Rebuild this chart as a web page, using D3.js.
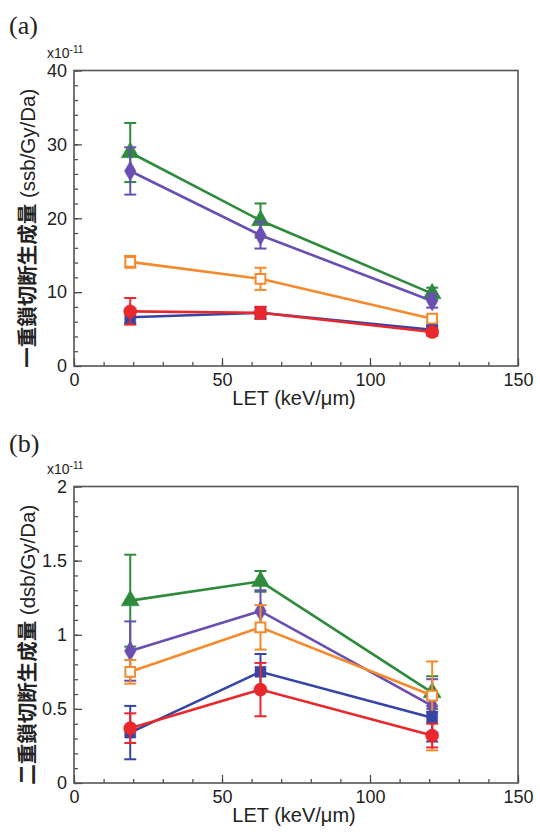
<!DOCTYPE html>
<html>
<head>
<meta charset="utf-8">
<script src="https://cdn.jsdelivr.net/npm/d3@7"></script>
<style>
  body { margin: 0; background: #fff; }
  svg { display: block; }
</style>
</head>
<body>
<svg id="chart"></svg>
<script>
// LET positions of the three beams (keV/um)
const LET = [19, 63, 121];
const seriesKeys = ["triangle", "diamond", "openSquare", "square", "circle"];
const colors = ["#2f8b3c", "#6a4fb3", "#f58a2c", "#3545a6", "#e8282d"];

// (a) single strand breaks, x10^-11 ssb/Gy/Da
const ssbValues = [
  [28.9, 19.7, 9.8],
  [26.4, 17.7, 8.8],
  [14.1, 11.8, 6.4],
  [6.6, 7.2, 4.9],
  [7.4, 7.2, 4.6],
];
const ssbErrUp = [
  [4.0, 2.3, 0.8],
  [3.2, 1.8, 0.9],
  [0.8, 1.5, 0.4],
  [0.8, 0.8, 0.5],
  [1.8, 0.8, 0.5],
];
const ssbErrDown = ssbErrUp;

// (b) double strand breaks, x10^-11 dsb/Gy/Da
const dsbValues = [
  [1.23, 1.36, 0.61],
  [0.89, 1.16, 0.52],
  [0.75, 1.05, 0.59],
  [0.34, 0.75, 0.44],
  [0.37, 0.63, 0.32],
];
const dsbErrUp = [
  [0.31, 0.07, 0.11],
  [0.2, 0.14, 0.18],
  [0.08, 0.15, 0.23],
  [0.18, 0.12, 0.04],
  [0.1, 0.18, 0.08],
];
const dsbErrDown = [
  [0.31, 0.07, 0.11],
  [0.2, 0.14, 0.18],
  [0.08, 0.15, 0.37],
  [0.18, 0.12, 0.16],
  [0.1, 0.18, 0.08],
];

const xTicks = [0, 50, 100, 150];
const ssbTicks = [0, 10, 20, 30, 40];
const dsbTicks = [0, 0.5, 1, 1.5, 2];

const width = 540;
const height = 834;
const svg = d3.select("#chart").attr("width", width).attr("height", height);

const x = d3.scaleLinear().domain([0, 150]).range([74, 518]);

const panels = [
  {
    label: "(a)", labelY: 34, top: 70.5, bottom: 366,
    domain: [0, 40], ticks: ssbTicks, minorStep: 2,
    values: ssbValues, up: ssbErrUp, down: ssbErrDown,
    cjk: "一重鎖切断生成量", unit: " (ssb/Gy/Da)",
  },
  {
    label: "(b)", labelY: 452, top: 486.5, bottom: 783,
    domain: [0, 2], ticks: dsbTicks, minorStep: 0.1,
    values: dsbValues, up: dsbErrUp, down: dsbErrDown,
    cjk: "二重鎖切断生成量", unit: " (dsb/Gy/Da)",
  },
];

const tickFont = "Liberation Sans, Arial, sans-serif";

function symbolFor(key) {
  if (key === "triangle") return d3.symbol(d3.symbolTriangle, 140)();
  if (key === "diamond") return d3.symbol(d3.symbolDiamond, 115)();
  if (key === "openSquare") return d3.symbol(d3.symbolSquare, 95)();
  if (key === "square") return d3.symbol(d3.symbolSquare, 120)();
  return d3.symbol(d3.symbolCircle, 135)();
}

panels.forEach((p) => {
  const y = d3.scaleLinear().domain(p.domain).range([p.bottom, p.top]);
  const g = svg.append("g");

  // minor ticks
  const xMinor = d3.range(0, 151, 10);
  const yMinor = d3.range(p.domain[0], p.domain[1] + 1e-9, p.minorStep);
  g.append("g")
    .attr("transform", `translate(0,${p.bottom})`)
    .call(d3.axisBottom(x).tickValues(xMinor).tickSize(-4).tickFormat(""))
    .call((a) => a.select(".domain").remove());
  g.append("g")
    .attr("transform", `translate(${x(0)},0)`)
    .call(d3.axisLeft(y).tickValues(yMinor).tickSize(-4).tickFormat(""))
    .call((a) => a.select(".domain").remove());

  // major ticks with labels
  const xAxis = g.append("g")
    .attr("transform", `translate(0,${p.bottom})`)
    .call(d3.axisBottom(x).tickValues(xTicks).tickSize(-8).tickPadding(7).tickFormat(d3.format("d")));
  const yAxis = g.append("g")
    .attr("transform", `translate(${x(0)},0)`)
    .call(d3.axisLeft(y).tickValues(p.ticks).tickSize(-8).tickPadding(7).tickFormat((d) => String(d)));
  [xAxis, yAxis].forEach((a) => {
    a.select(".domain").remove();
    a.selectAll("text").attr("font-family", tickFont).attr("font-size", 18).attr("fill", "#222");
  });
  g.selectAll(".tick line").attr("stroke", "#444").attr("stroke-width", 1.2);

  // frame
  g.append("rect")
    .attr("x", x(0)).attr("y", p.top)
    .attr("width", x(150) - x(0)).attr("height", p.bottom - p.top)
    .attr("fill", "none").attr("stroke", "#555").attr("stroke-width", 1.6);

  // scale factor
  const sf = g.append("text")
    .attr("x", 47).attr("y", p.top - 13)
    .attr("font-family", tickFont).attr("font-size", 14).attr("fill", "#222");
  sf.append("tspan").text("x10");
  sf.append("tspan").attr("font-size", 10).attr("dy", -5).text("-11");

  // panel label
  g.append("text")
    .attr("x", 9).attr("y", p.labelY)
    .attr("font-family", "Liberation Serif, Times New Roman, serif")
    .attr("font-size", 26).attr("fill", "#222")
    .text(p.label);

  // x axis title
  g.append("text")
    .attr("x", (x(0) + x(150)) / 2 - 2).attr("y", p.bottom + 39)
    .attr("text-anchor", "middle")
    .attr("font-family", tickFont).attr("font-size", 20).attr("fill", "#222")
    .text("LET (keV/μm)");

  // y axis title
  const yt = g.append("text")
    .attr("transform", `translate(35,${(p.top + p.bottom) / 2 + 10}) rotate(-90)`)
    .attr("text-anchor", "middle")
    .attr("font-size", 20.5).attr("fill", "#222");
  yt.append("tspan").attr("font-family", "Noto Sans CJK JP").attr("font-weight", "bold").text(p.cjk);
  yt.append("tspan").attr("font-family", tickFont).text(p.unit);

  const line = d3.line().x((d, i) => x(LET[i])).y((d) => y(d));

  seriesKeys.forEach((key, s) => {
    const c = colors[s];
    const sg = g.append("g").attr("class", "series-" + key);

    sg.append("path")
      .attr("d", line(p.values[s]))
      .attr("fill", "none").attr("stroke", c).attr("stroke-width", 2.6);

    p.values[s].forEach((v, i) => {
      const cx = x(LET[i]);
      const y0 = y(v - p.down[s][i]);
      const y1 = y(v + p.up[s][i]);
      sg.append("line").attr("x1", cx).attr("x2", cx).attr("y1", y0).attr("y2", y1)
        .attr("stroke", c).attr("stroke-width", 2);
      [y0, y1].forEach((yy) =>
        sg.append("line").attr("x1", cx - 6).attr("x2", cx + 6).attr("y1", yy).attr("y2", yy)
          .attr("stroke", c).attr("stroke-width", 2)
      );
    });

    sg.selectAll("path.mark")
      .data(p.values[s])
      .join("path")
      .attr("class", "mark")
      .attr("transform", (d, i) => `translate(${x(LET[i])},${y(d)})`)
      .attr("d", symbolFor(key))
      .attr("fill", key === "openSquare" ? "#fff" : c)
      .attr("stroke", c)
      .attr("stroke-width", key === "openSquare" ? 2 : 0.5);
  });
});
</script>
</body>
</html>
